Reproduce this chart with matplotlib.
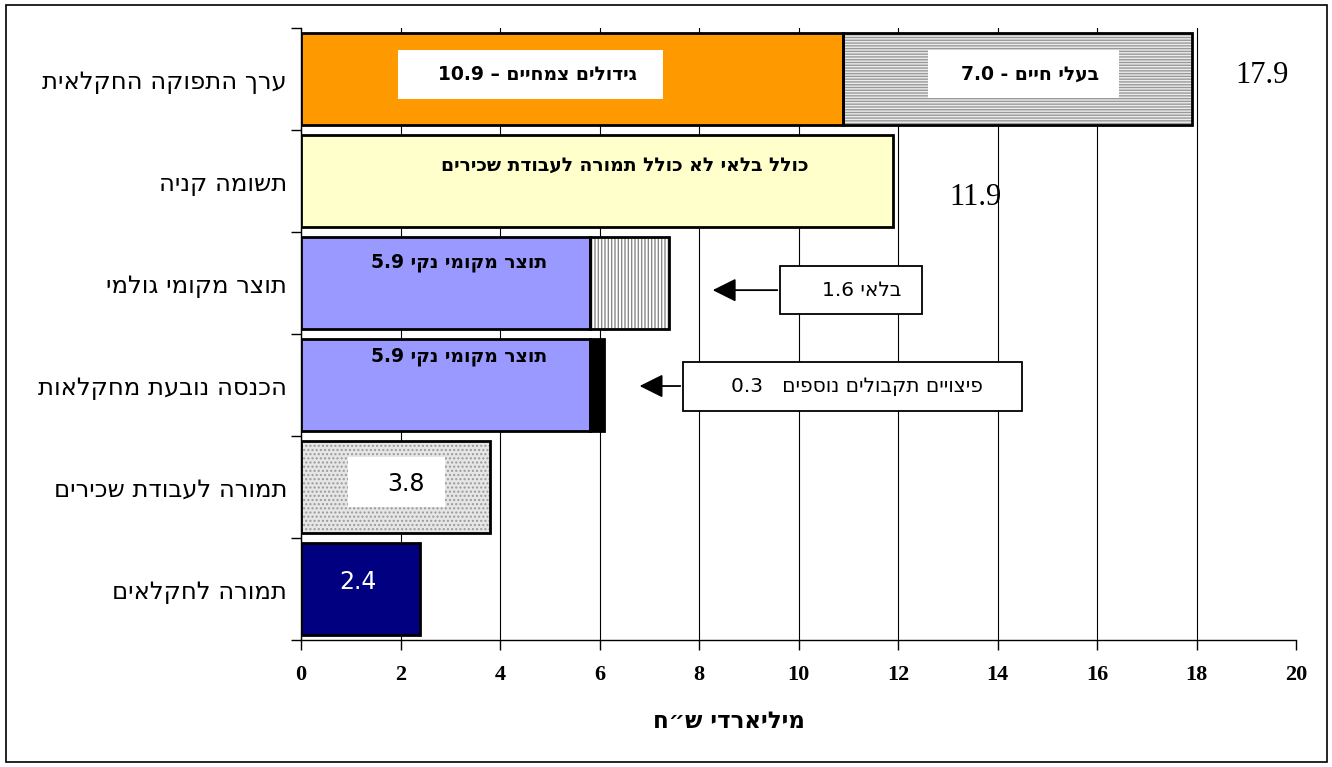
import re
import numpy as np
import matplotlib.pyplot as plt
from matplotlib.patches import Rectangle

# Hebrew has to be put in visual order by hand: matplotlib draws left to right
def rtl(s):
    parts = re.findall(r'[0-9.]+|[^0-9.]+', s)
    return ''.join(p if re.match(r'[0-9.]', p) else p[::-1] for p in reversed(parts))

categories = ['ערך התפוקה החקלאית', 'תשומה קניה', 'תוצר מקומי גולמי',
              'הכנסה נובעת מחקלאות', 'תמורה לעבודת שכירים', 'תמורה לחקלאים']
first = [10.9, 11.9, 5.8, 5.8, 3.8, 2.4]
second = [7.0, 0.0, 1.6, 0.3, 0.0, 0.0]
totals = [17.9, 11.9]
xticks = np.arange(0, 21, 2)

heb = ['DejaVu Sans']
heb_bold = ['DejaVu Sans']
serif = ['Liberation Serif', 'DejaVu Serif']

fig = plt.figure(figsize=(13.32, 7.67), dpi=100)
ax = fig.add_axes([301 / 1332, 1 - 640 / 767, 995 / 1332, 612 / 767])

y = np.arange(len(categories))
h = 0.91
first_colors = ['#FF9900', '#FFFFCC', '#9999FF', '#9999FF', '#E6E6E6', '#000080']
first_hatch = [None, None, None, None, '....', None]

for i in range(len(categories)):
    if first_hatch[i]:
        ax.barh(y[i], first[i], height=h, color=first_colors[i], hatch=first_hatch[i],
                edgecolor='#9a9a9a', linewidth=0, zorder=2)
        ax.barh(y[i], first[i], height=h, fill=False, edgecolor='black', linewidth=2, zorder=3)
    else:
        ax.barh(y[i], first[i], height=h, color=first_colors[i], edgecolor='black',
                linewidth=2, zorder=3)

# second segments
ax.barh(y[0], second[0], left=first[0], height=h, color='#EDEDED', hatch='------',
        edgecolor='#999999', linewidth=0, zorder=2)
ax.barh(y[0], second[0], left=first[0], height=h, fill=False, edgecolor='black', linewidth=2, zorder=3)
ax.barh(y[2], second[2], left=first[2], height=h, color='white', hatch='|||||',
        edgecolor='#888888', linewidth=0, zorder=2)
ax.barh(y[2], second[2], left=first[2], height=h, fill=False, edgecolor='black', linewidth=2, zorder=3)
ax.barh(y[3], second[3], left=first[3], height=h, color='black', edgecolor='black', linewidth=2, zorder=3)

ax.set_xlim(0, 20)
ax.set_ylim(5.5, -0.5)
ax.set_xticks(xticks)
ax.set_xticklabels([str(t) for t in xticks], family=serif, fontsize=16, fontweight='bold')
ax.set_yticks(y)
ax.set_yticklabels([rtl(c) for c in categories], family=heb, fontsize=17.5)
ax.set_yticks(np.arange(-0.5, 6, 1), minor=True)
ax.tick_params(axis='y', which='major', length=0, pad=10)
ax.tick_params(axis='y', which='minor', length=7, width=1)
ax.tick_params(axis='x', length=7, width=1, pad=11)
ax.grid(axis='x', color='black', linewidth=0.8, zorder=0)
ax.get_xgridlines()[-1].set_visible(False)
ax.set_axisbelow(True)
for s in ['top', 'right']:
    ax.spines[s].set_visible(False)
ax.spines['left'].set_linewidth(1)
ax.spines['bottom'].set_linewidth(1)

fig.text(729 / 1332, 1 - 722 / 767, rtl('מיליארדי ש״ח'), family=heb_bold, fontsize=16.5,
         fontweight='bold', ha='center', va='center')

# white label boxes
def box(x0, x1, y0, y1):
    ax.add_patch(Rectangle((x0, y0), x1 - x0, y1 - y0, facecolor='white',
                           edgecolor='none', zorder=4))

def boxed(x0, x1, y0, y1):
    ax.add_patch(Rectangle((x0, y0), x1 - x0, y1 - y0, facecolor='white',
                           edgecolor='black', linewidth=1.3, zorder=4))

arrow = dict(arrowstyle='-|>', color='black', lw=1.3, mutation_scale=36)

box(1.94, 7.27, -0.28, 0.20)
ax.text(4.76, -0.045, rtl('גידולים צמחיים – 10.9'), family=heb_bold, fontsize=13.5,
        fontweight='bold', ha='center', va='center', zorder=5)
box(12.60, 16.44, -0.28, 0.19)
ax.text(14.65, -0.05, rtl('בעלי חיים - 7.0'), family=heb_bold, fontsize=13.5,
        fontweight='bold', ha='center', va='center', zorder=5)
ax.text(19.32, -0.035, f'{totals[0]:.1f}', family=serif, fontsize=22, ha='center', va='center')

ax.text(6.51, 0.843, rtl('כולל בלאי לא כולל תמורה לעבודת שכירים'), family=heb_bold,
        fontsize=13.5, fontweight='bold', ha='center', va='center', zorder=5)
ax.text(13.55, 1.157, f'{totals[1]:.1f}', family=serif, fontsize=22, ha='center', va='center')

ax.text(3.18, 1.80, rtl('תוצר מקומי נקי 5.9'), family=heb_bold, fontsize=13.5,
        fontweight='bold', ha='center', va='center', zorder=5)
boxed(9.63, 12.48, 1.83, 2.30)
ax.text(11.28, 2.07, rtl('בלאי 1.6'), family=heb, fontsize=14.5,
        ha='center', va='center', zorder=5)
ax.annotate('', xy=(8.22, 2.07), xytext=(9.63, 2.07), arrowprops=arrow, zorder=5)

ax.text(3.18, 2.725, rtl('תוצר מקומי נקי 5.9'), family=heb_bold, fontsize=13.5,
        fontweight='bold', ha='center', va='center', zorder=5)
boxed(7.68, 14.49, 2.77, 3.25)
ax.text(11.18, 3.01, rtl('פיצויים תקבולים נוספים   0.3'), family=heb, fontsize=14.5,
        ha='center', va='center', zorder=5)
ax.annotate('', xy=(6.75, 3.01), xytext=(7.68, 3.01), arrowprops=arrow, zorder=5)

box(0.945, 2.894, 3.706, 4.196)
ax.text(2.11, 3.97, f'{first[4]:.1f}', family=heb, fontsize=17, ha='center', va='center', zorder=5)
ax.text(1.15, 4.93, f'{first[5]:.1f}', family=heb, fontsize=17, color='white',
        ha='center', va='center', zorder=5)

fig.patches.append(Rectangle((6 / 1332, 5 / 767), 1321 / 1332, 757 / 767, transform=fig.transFigure,
                             fill=False, edgecolor='black', linewidth=1.2))

fig.savefig('out.png', dpi=100)
